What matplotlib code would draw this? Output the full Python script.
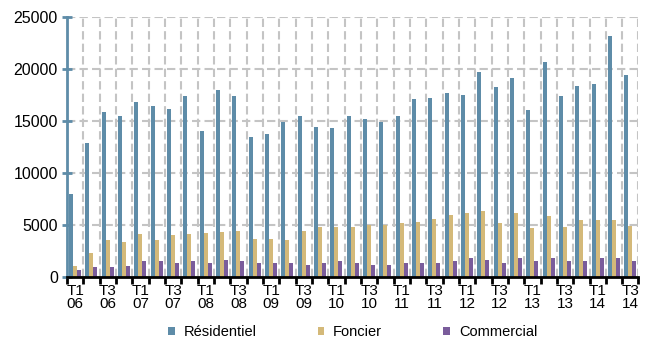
import matplotlib.pyplot as plt
import numpy as np

# Trimestres T1 06 .. T3 14
trimestres = []
for an in range(6, 15):
    for t in range(1, 5):
        if an == 14 and t == 4:
            break
        trimestres.append("T%d\n%02d" % (t, an))

residentiel = [8000, 12900, 15900, 15500, 16800, 16450, 16200, 17400, 14000, 17950,
               17400, 13450, 13750, 14950, 15450, 14450, 14300, 15500, 15200, 14950,
               15500, 17100, 17200, 17650, 17500, 19700, 18250, 19100, 16050, 20700,
               17400, 18400, 18550, 23200, 19400]
foncier = [1050, 2350, 3550, 3400, 4150, 3550, 4000, 4150, 4250, 4300,
           4400, 3700, 3700, 3550, 4400, 4850, 4850, 4850, 5000, 5000,
           5150, 5250, 5550, 6000, 6150, 6300, 5150, 6150, 4700, 5850,
           4850, 5450, 5450, 5450, 4950]
commercial = [650, 950, 950, 1050, 1500, 1500, 1350, 1500, 1350, 1650,
              1500, 1350, 1350, 1350, 1200, 1350, 1500, 1350, 1200, 1200,
              1350, 1350, 1350, 1500, 1800, 1650, 1350, 1800, 1500, 1800,
              1500, 1500, 1800, 1800, 1500]

c_res = '#5E8CA8'
c_fon = '#D4B979'
c_com = '#7A5C9B'

plt.rcParams['font.family'] = ['Liberation Sans', 'DejaVu Sans']

fig = plt.figure(figsize=(6.55, 3.44), dpi=100)
ax = fig.add_axes([0.1023, 0.1948, 0.8725, 0.7558])

x = np.arange(len(trimestres))
w = 0.245
ax.bar(x - w, residentiel, w, color=c_res, label='Résidentiel', zorder=3)
ax.bar(x, foncier, w, color=c_fon, label='Foncier', zorder=3)
ax.bar(x + w, commercial, w, color=c_com, label='Commercial', zorder=3)

ax.set_xlim(-0.5, len(trimestres) - 0.5)
ax.set_ylim(0, 25000)
ax.set_yticks(range(0, 25001, 5000))

# graduations aux limites des catégories
bornes = np.arange(len(trimestres) + 1) - 0.5
ax.set_xticks(bornes, minor=False)
ax.set_xticklabels([])
ax.set_xticks(x[::2], minor=True)
ax.set_xticklabels(trimestres[::2], minor=True)
ax.tick_params(axis='x', which='major', direction='out', length=5, width=2, color='black')
ax.tick_params(axis='x', which='minor', length=0, labelsize=11, pad=5)
ax.tick_params(axis='y', direction='inout', length=7, width=2, color=c_res, labelsize=11.5, pad=3)
for lab in ax.get_xticklabels(minor=True):
    lab.set_linespacing(0.95)

ax.grid(True, which='major', color='#C4C4C4', linestyle=(0, (4, 2)), linewidth=1.5, zorder=0)

for s in ['top', 'right']:
    ax.spines[s].set_visible(False)
ax.spines['left'].set_color(c_res)
ax.spines['left'].set_linewidth(2)
ax.spines['left'].set_zorder(4)
ax.spines['bottom'].set_color('black')
ax.spines['bottom'].set_linewidth(2)
ax.spines['bottom'].set_zorder(4)

ax.legend(loc='center', bbox_to_anchor=(0.50, -0.212), ncol=3, frameon=False,
          fontsize=10.5, handlelength=0.45, handleheight=0.45, handletextpad=0.6,
          columnspacing=4.2, borderpad=0)

fig.savefig('out.png', dpi=100)
